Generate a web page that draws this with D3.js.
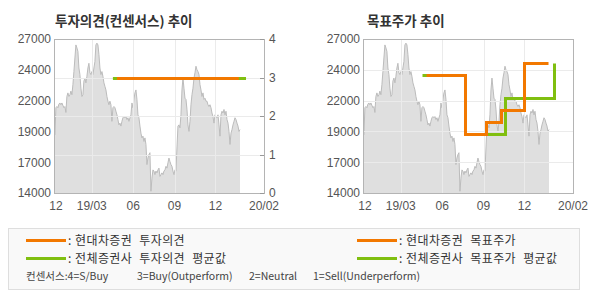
<!DOCTYPE html>
<html>
<head>
<meta charset="utf-8">
<script src="https://cdn.jsdelivr.net/npm/d3@7/dist/d3.min.js"></script>
<style>
    body { margin: 0; background: #fff; }
    text { font-family: "Liberation Sans", Arial, sans-serif; }
    .kr { font-family: "Noto Sans CJK KR", sans-serif; }
</style>
</head>
<body>
<svg id="chart" width="590" height="300"></svg>
<script>
// price series (close, KRW), one point every ~2.2 days from 2018-12-09
var priceStart = new Date(2018, 11, 9);
var priceStepDays = 2.225;
var prices = [
    18900, 21200, 21300, 21200, 21500, 21600, 21450, 21600, 21400, 21200, 21300, 20800,
    22150, 22450, 22150, 22300, 22600, 22300, 23150, 24250, 25400, 26500, 26250, 25950,
    24550, 24000, 22850, 22150, 22300, 23450, 23700, 23300, 23850, 24550, 24950, 24150,
    24000, 24250, 24000, 24550, 25100, 26500, 26650, 26500, 25700, 24550, 24000, 24250,
    23850, 23300, 23000, 22700, 22150, 21750, 21450, 21750, 21450, 20050, 21200, 21300,
    21200, 20900, 20600, 20200, 19750, 19900, 19650, 20050, 20350, 20450, 20350, 20450,
    20200, 20350, 20050, 20350, 20600, 21600, 21200, 21900, 22450, 22700, 21900, 20600,
    20350, 19650, 19050, 18650, 18800, 18350, 18650, 18100, 16400, 16950, 17250, 17400,
    14150, 15250, 15950, 15850, 15550, 15850, 15700, 15950, 16100, 15400, 15550, 15700,
    15550, 15850, 15950, 16250, 16100, 16550, 16950, 16650, 16400, 16250, 15850, 15550,
    15950, 15850, 17800, 19650, 19750, 19500, 20600, 22700, 23700, 22850, 22000, 21900,
    21050, 19750, 19200, 20050, 21450, 22300, 22850, 23700, 24150, 24700, 24400, 24250,
    24000, 23150, 22700, 22150, 22450, 21900, 22000, 21750, 21750, 21450, 21300, 21450,
    21200, 20750, 20450, 19900, 20600, 20450, 20350, 20600, 19750, 18800, 20600, 20900,
    20750, 21050, 20600, 20900, 20200, 19900, 19200, 18100, 19050, 19350, 19750, 20050,
    20350, 20200, 19900, 19650, 19200, 19350
];

// x axis
var xDomain = [new Date(2018, 11, 7), new Date(2020, 2, 18)];
var xTickDates = [new Date(2018, 11, 7), new Date(2019, 2, 1), new Date(2019, 5, 1),
                  new Date(2019, 8, 1), new Date(2019, 11, 1), new Date(2020, 2, 18)];
var xTickLabels = ["12", "19/03", "06", "09", "12", "20/02"];

// price axis
var priceDomain = [14000, 27000];
var priceTicks = [14000, 16600, 19200, 21800, 24400, 27000];
var priceTickLabels = ["14000", "17000", "19000", "22000", "24000", "27000"];

// opinion axis (right of first chart)
var opinionTicks = [0, 1, 2, 3, 4];

// investment opinion: 현대차증권 vs 전체증권사 평균
var opinionHyundai = [
    { date: new Date(2019, 3, 26), value: 3 },
    { date: new Date(2020, 0, 22), value: 3 }
];
var opinionAll = [
    { date: new Date(2019, 3, 17), value: 3 },
    { date: new Date(2020, 1, 7), value: 3 }
];

// target price
var targetHyundai = [
    { date: new Date(2019, 3, 27), value: 24000 },
    { date: new Date(2019, 6, 22), value: 19000 },
    { date: new Date(2019, 8, 6), value: 20000 },
    { date: new Date(2019, 9, 10), value: 21000 },
    { date: new Date(2019, 11, 1), value: 25000 },
    { date: new Date(2020, 0, 22), value: 25000 }
];
var targetAll = [
    { date: new Date(2019, 3, 17), value: 24000 },
    { date: new Date(2019, 6, 22), value: 19000 },
    { date: new Date(2019, 9, 19), value: 22000 },
    { date: new Date(2020, 1, 5), value: 25000 }
];

var titles = ["투자의견(컨센서스) 추이", "목표주가 추이"];
var legendLabels = ["현대차증권 투자의견", "전체증권사 투자의견 평균값", "현대차증권 목표주가", "전체증권사 목표주가 평균값"];
var consensusNotes = ["컨센서스:4=S/Buy", "3=Buy(Outperform)", "2=Neutral", "1=Sell(Underperform)"];

var ORANGE = "#f27800";
var GREEN = "#80bf10";

var render = function() {
    var svg = d3.select("#chart");
    var width = 210, height = 154;

    var priceData = prices.map(function(v, i) {
        return { date: new Date(priceStart.getTime() + i * priceStepDays * 864e5), value: v };
    });

    var x = d3.scaleTime().domain(xDomain).range([0, width]);
    var y = d3.scaleLinear().domain(priceDomain).range([height, 0]);
    var yOp = d3.scaleLinear().domain([0, 4]).range([height, 0]);

    // ---- left chart: opinion ----
    var g1 = svg.append("g").attr("transform", "translate(54,39)");
    drawPanel(g1, priceData, x, y, width, height, opinionTicks.slice(1, 4).map(yOp));
    g1.append("text").attr("class", "kr")
        .attr("x", 1).attr("y", -13)
        .style("font-size", "13.5px").style("font-weight", "bold").style("fill", "#333")
        .text(titles[0]);

    // right axis 0..4
    var rAxis = g1.append("g").attr("transform", "translate(" + width + ",0)");
    opinionTicks.forEach(function(t) {
        rAxis.append("line")
            .attr("x1", -4).attr("x2", 0)
            .attr("y1", Math.round(yOp(t)) + 0.5).attr("y2", Math.round(yOp(t)) + 0.5)
            .style("stroke", "#999");
        rAxis.append("text")
            .attr("x", 5).attr("y", yOp(t)).attr("dy", "0.36em")
            .style("font-size", "12px").style("fill", "#555")
            .text(t);
    });

    var opLine = d3.line().x(d => x(d.date)).y(d => Math.round(yOp(d.value)) + 0.5);
    g1.append("path").attr("d", opLine(opinionAll))
        .style("stroke", GREEN).style("stroke-width", 3).style("fill", "none");
    g1.append("path").attr("d", opLine(opinionHyundai))
        .style("stroke", ORANGE).style("stroke-width", 3).style("fill", "none");

    // ---- right chart: target price ----
    var g2 = svg.append("g").attr("transform", "translate(363,39)");
    drawPanel(g2, priceData, x, y, width, height, priceTicks.slice(1, 5).map(y));
    g2.append("text").attr("class", "kr")
        .attr("x", 4).attr("y", -13)
        .style("font-size", "13.5px").style("font-weight", "bold").style("fill", "#333")
        .text(titles[1]);

    var tpLine = d3.line().curve(d3.curveStepAfter)
        .x(d => Math.round(x(d.date)) + 0.5)
        .y(d => Math.round(y(d.value)) + 0.5);
    g2.append("path").attr("d", tpLine(targetAll))
        .style("stroke", GREEN).style("stroke-width", 3).style("fill", "none");
    g2.append("path").attr("d", tpLine(targetHyundai))
        .style("stroke", ORANGE).style("stroke-width", 3).style("fill", "none");

    drawLegend(svg);
}


// shared background: price area, grid, frame, axis labels
function drawPanel(g, priceData, x, y, width, height, gridYs) {
    var area = d3.area()
        .x(d => x(d.date))
        .y0(height)
        .y1(d => y(d.value));
    g.append("path").attr("d", area(priceData))
        .style("fill", "#dfdfdf");
    g.append("path").attr("d", d3.line().x(d => x(d.date)).y(d => y(d.value))(priceData))
        .style("fill", "none").style("stroke", "#bcbcbc").style("stroke-width", 1);

    // grid lines
    xTickDates.slice(1, -1).forEach(function(d) {
        var px = Math.round(x(d)) + 0.5;
        g.append("line").attr("x1", px).attr("x2", px).attr("y1", 0).attr("y2", height)
            .style("stroke", "#ebebeb");
    });
    gridYs.forEach(function(py) {
        py = Math.round(py) + 0.5;
        g.append("line").attr("x1", 0).attr("x2", width).attr("y1", py).attr("y2", py)
            .style("stroke", "#ebebeb");
    });

    // frame
    g.append("rect").attr("x", 0.5).attr("y", 0.5)
        .attr("width", width).attr("height", height)
        .style("fill", "none").style("stroke", "#b4b4b4");

    // left price labels
    priceTicks.forEach(function(t, i) {
        g.append("text")
            .attr("x", -3).attr("y", y(t)).attr("dy", "0.36em")
            .attr("text-anchor", "end")
            .style("font-size", "12px").style("fill", "#555")
            .text(priceTickLabels[i]);
    });

    // bottom date labels
    xTickDates.forEach(function(d, i) {
        g.append("text")
            .attr("x", x(d) + (i == 0 ? 2 : 0)).attr("y", height + 17)
            .attr("text-anchor", "middle")
            .style("font-size", "12px").style("fill", "#555")
            .text(xTickLabels[i]);
    });
}


function drawLegend(svg) {
    var lg = svg.append("g");
    lg.append("rect")
        .attr("x", 8.5).attr("y", 228.5).attr("width", 571).attr("height", 61)
        .style("fill", "#f9f9f9").style("stroke", "#dedede");

    var items = [
        { x: 26, y: 240, color: ORANGE, label: legendLabels[0] },
        { x: 26, y: 258, color: GREEN, label: legendLabels[1] },
        { x: 357, y: 240, color: ORANGE, label: legendLabels[2] },
        { x: 357, y: 258, color: GREEN, label: legendLabels[3] }
    ];
    items.forEach(function(it) {
        lg.append("line")
            .attr("x1", it.x).attr("x2", it.x + 40)
            .attr("y1", it.y + 0.5).attr("y2", it.y + 0.5)
            .style("stroke", it.color).style("stroke-width", 3);
        lg.append("text").attr("class", "kr")
            .attr("x", it.x + 42).attr("y", it.y + 5)
            .style("font-size", "12px").style("fill", "#333")
            .text(":");
        lg.append("text").attr("class", "kr")
            .attr("x", it.x + 49).attr("y", it.y + 5)
            .style("font-size", "12px").style("fill", "#333")
            .style("letter-spacing", "0.4px").style("word-spacing", "4px")
            .text(it.label);
    });

    var noteX = [26, 137, 249, 313];
    consensusNotes.forEach(function(t, i) {
        lg.append("text").attr("class", "kr")
            .attr("x", noteX[i]).attr("y", 280)
            .style("font-size", "10.5px").style("fill", "#444")
            .text(t);
    });
}

render();
</script>
</body>
</html>
